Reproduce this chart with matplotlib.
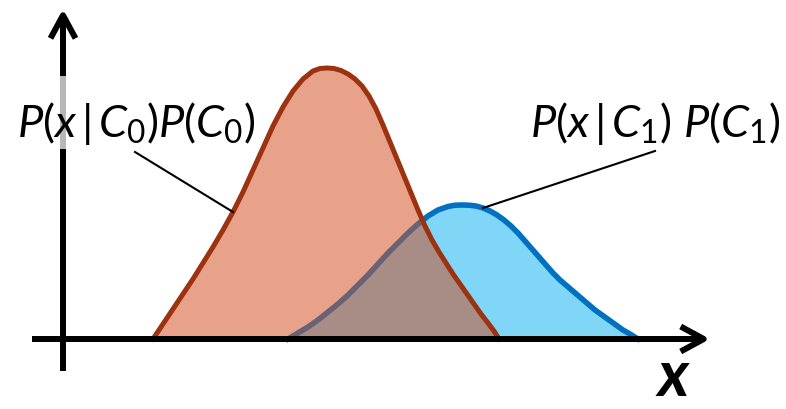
import numpy as np
import matplotlib
matplotlib.use('Agg')
import matplotlib.pyplot as plt
from matplotlib import font_manager
from matplotlib.patches import Rectangle

# narrow humanist-looking italic for the labels, Lato if the narrow face is missing
names = {f.name for f in font_manager.fontManager.ttflist}
if 'Liberation Sans Narrow' in names:
    label_font, label_size = 'Liberation Sans Narrow', 37
else:
    label_font, label_size = 'Lato', 32.5

plt.rcParams['mathtext.fontset'] = 'custom'
plt.rcParams['mathtext.it'] = label_font + ':italic'
plt.rcParams['mathtext.rm'] = label_font
plt.rcParams['mathtext.bf'] = 'Lato:bold:italic'

# class-weighted likelihoods sampled along x (arbitrary units)
red_x = [9.0, 10.0, 11.0, 12.0, 13.0, 14.0, 15.0, 16.0, 17.0, 18.0, 19.0, 20.0,
         21.0, 22.0, 23.0, 24.0, 25.0, 25.7, 26.4,
         27.1, 27.8, 28.5, 29.2, 29.9, 30.6, 31.3, 32.0, 32.7, 33.4, 34.1, 34.8,
         35.5, 36.2, 36.9, 37.6, 38.3, 39.0, 39.7, 40.4, 41.1, 41.8, 42.5, 43.1, 43.6]
red_h = [0.0, 1.5, 3.0, 4.5, 6.0, 7.6, 9.2, 10.9, 12.7, 14.7, 16.9, 19.1,
         21.3, 23.2, 24.8, 26.0, 26.8, 27.05, 27.1,
         27.05, 26.85, 26.5, 26.0, 25.3, 24.3, 23.0, 21.4, 19.7, 18.0, 16.3, 14.6,
         12.9, 11.3, 9.9, 8.7, 7.6, 6.5, 5.5, 4.5, 3.5, 2.5, 1.6, 0.8, 0.0]

blue_x = [22.5, 23.5, 24.5, 25.5, 26.5, 27.5, 28.5, 29.5, 30.5, 31.5, 32.5, 33.5,
          34.5, 35.5, 36.5, 37.5, 38.5, 39.2, 39.9, 40.6, 41.3, 42.0, 42.7, 43.4,
          44.1, 44.8, 45.5, 46.2, 46.9, 47.6, 48.3, 49.0, 49.7, 50.4, 51.1, 51.8,
          52.5, 53.2, 53.9, 54.6, 55.3, 56.0, 56.7, 57.5]
blue_h = [0.0, 0.6, 1.2, 1.9, 2.7, 3.5, 4.4, 5.4, 6.4, 7.5, 8.6, 9.6,
          10.6, 11.5, 12.3, 12.9, 13.25, 13.38, 13.4, 13.38, 13.3, 13.1, 12.8, 12.4,
          11.9, 11.3, 10.6, 9.8, 9.0, 8.2, 7.4, 6.6, 5.9, 5.3, 4.7, 4.1,
          3.5, 2.9, 2.4, 1.9, 1.4, 0.9, 0.5, 0.0]

label_c0 = r'$\mathit{P(x}\,|\,\mathit{C}_{\mathrm{0}}\mathit{)P(C}_{\mathrm{0}}\mathit{)}$'
label_c1 = r'$\mathit{P(x}\,|\,\mathit{C}_{\mathrm{1}}\mathit{)\ P(C}_{\mathrm{1}}\mathit{)}$'

red_fill_c = '#E8A28A'
red_line_c = '#9C3210'
blue_fill_c = '#80D6F7'
blue_line_c = '#0070C0'
overlap_fill_c = '#A88D86'
overlap_line_c = '#6B6175'

fig = plt.figure(figsize=(7.86, 4.10), dpi=100)
ax = fig.add_axes([0, 0, 1, 1])
ax.set_xlim(-6.3, 72.3)
ax.set_ylim(-7.0, 34.0)
ax.axis('off')

# blue class first, red drawn over it
ax.fill(blue_x, blue_h, color=blue_fill_c, lw=0, zorder=1)
ax.plot(blue_x, blue_h, color=blue_line_c, lw=4, solid_joinstyle='round', zorder=2)
red_poly = ax.fill(red_x, red_h, color=red_fill_c, lw=0, zorder=3)[0]

# overlap region: blue seen through the red shape
ov = ax.fill(blue_x, blue_h, color=overlap_fill_c, lw=0, zorder=4)[0]
ov.set_clip_path(red_poly)
ov_line, = ax.plot(blue_x, blue_h, color=overlap_line_c, lw=4,
                   solid_joinstyle='round', zorder=5)
ov_line.set_clip_path(red_poly)

ax.plot(red_x, red_h, color=red_line_c, lw=3.6, solid_joinstyle='round', zorder=6)

# axes arrows
arrow = dict(arrowstyle='->,head_length=0.83,head_width=0.45', lw=4.3,
             color='black', mutation_scale=20, shrinkA=0, shrinkB=0,
             joinstyle='round', capstyle='butt')
ax.annotate('', xy=(64.7, 0), xytext=(-3.1, 0), arrowprops=arrow, zorder=7)
ax.annotate('', xy=(0, 33.0), xytext=(0, -3.2), arrowprops=arrow, zorder=7)

# translucent box behind the left label
ax.add_patch(Rectangle((-0.7, 19.0), 1.4, 7.3, facecolor='white', alpha=0.72,
                       lw=0, zorder=8))

ax.text(-4.6, 20.3, label_c0, fontsize=label_size, ha='left', va='baseline', zorder=9)
ax.text(46.7, 20.3, label_c1, fontsize=label_size, ha='left', va='baseline', zorder=9)
ax.text(61.0, -6.95, r'$\mathbf{x}$', fontsize=46, ha='center', va='bottom', zorder=9)

# leader lines
ax.plot([7.2, red_x[8]], [18.7, red_h[8]], color='black', lw=1.5, zorder=9)
ax.plot([59.2, blue_x[21]], [18.8, blue_h[21]], color='black', lw=1.5, zorder=9)

plt.savefig('out.png', dpi=100)
plt.close('all')
